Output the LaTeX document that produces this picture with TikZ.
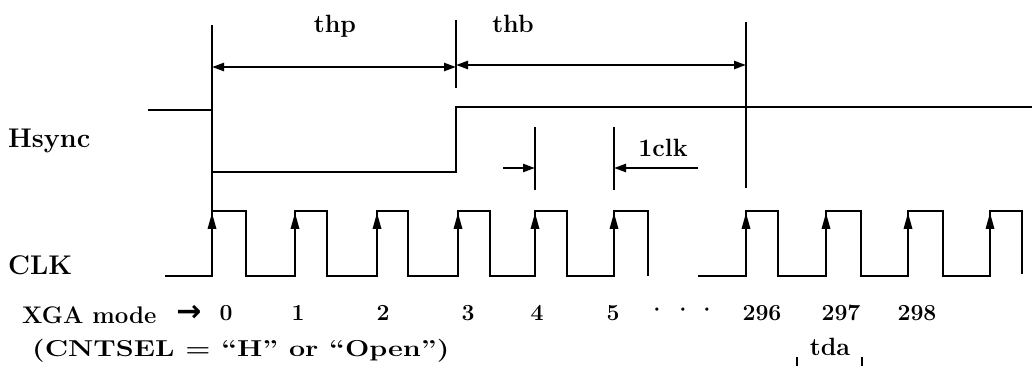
\documentclass[tikz,border=0pt]{standalone}
\usepackage{fontspec}
\newfontfamily\djv{DejaVu Sans}
\usetikzlibrary{arrows.meta}
\begin{document}
\begin{tikzpicture}[x=1pt,y=-1pt,
  >={Triangle[length=12pt,width=8pt]},
  sig/.style={line width=2.8pt, line join=miter},
  refl/.style={line width=1.4pt},
  dim/.style={line width=2.4pt},
  lbl/.style={font=\fontsize{25}{30}\selectfont\bfseries, inner sep=0pt, anchor=base},
  num/.style={font=\fontsize{23}{28}\selectfont\bfseries, inner sep=0pt, anchor=base},
  sname/.style={font=\fontsize{27}{32}\selectfont\bfseries, inner sep=0pt, anchor=base west},
  txt/.style={font=\fontsize{24}{30}\selectfont\bfseries, inner sep=0pt, anchor=base west},
  sym/.style={font=\fontsize{23}{28}\selectfont\bfseries, inner sep=0pt},
]
\useasboundingbox (0,0) rectangle (1036,366);

% reference coordinates
\coordinate (r0t) at (212,25);  \coordinate (r0b) at (212,211);
\coordinate (r3t) at (456,20);  \coordinate (r3b) at (456,88);
\coordinate (rbt) at (746,22);  \coordinate (rbb) at (746,188);
\coordinate (c4t) at (535,127); \coordinate (c4b) at (535,190);
\coordinate (c5t) at (614,127); \coordinate (c5b) at (614,190);
\coordinate (ta) at (797,357);  \coordinate (tab) at (797,366);
\coordinate (tb) at (862,357);  \coordinate (tbb) at (862,366);

% vertical reference lines
\draw[refl] (r0t) -- (r0b);
\draw[refl] (r3t) -- (r3b);
\draw[refl] (rbt) -- (rbb);
\draw[refl] (c4t) -- (c4b);
\draw[refl] (c5t) -- (c5b);
\draw[refl] (ta) -- (tab);
\draw[refl] (tb) -- (tbb);

% dimension arrows
\coordinate (thpL) at (212,67); \coordinate (thpR) at (456,67);
\coordinate (thbL) at (456,65); \coordinate (thbR) at (746,65);
\draw[dim,<->] (thpL) -- (thpR);
\draw[dim,<->] (thbL) -- (thbR);
\coordinate (k1s) at (503,168); \coordinate (k1e) at (535,168);
\coordinate (k2s) at (698,168); \coordinate (k2e) at (614,168);
\draw[dim,->] (k1s) -- (k1e);
\draw[dim,->] (k2s) -- (k2e);

% Hsync
\draw[sig] (148,110) -- (212,110) -- (212,172) -- (456,172) -- (456,107) -- (1032,107);

% CLK
\draw[sig] (165,276) -- (212,276) -- (212,211) -- (246,211) -- (246,276)
  -- (295,276) -- (295,211) -- (327,211) -- (327,276)
  -- (377,276) -- (377,211) -- (408,211) -- (408,276)
  -- (458,276) -- (458,211) -- (490,211) -- (490,276)
  -- (535,276) -- (535,211) -- (567,211) -- (567,276)
  -- (614,276) -- (614,211) -- (648,211) -- (648,276);
\draw[sig] (698,276) -- (746,276) -- (746,211) -- (778,211) -- (778,276)
  -- (826,276) -- (826,211) -- (861,211) -- (861,276)
  -- (908,276) -- (908,211) -- (943,211) -- (943,276)
  -- (990,276) -- (990,211) -- (1022,211) -- (1022,274);
\foreach \x in {212,295,377,458,535,614,746,826,908,990}
  \fill (\x-4.5,229) -- (\x,213) -- (\x+4.5,229) -- cycle;

% labels
\node[lbl] (thp) at (335,33) {thp};
\node[lbl] (thb) at (513,33) {thb};
\node[lbl] (clk1) at (663,157) {1clk};
\node[lbl] (tda) at (830,355) {tda};

\node[sname] (hsync) at (8,148) {Hsync};
\node[sname] (clk) at (8,274) {CLK};
\node[txt] (xga) at (22,323) {XGA mode};
\node[sym, font=\fontsize{30}{34}\djv\bfseries] (arr) at (189,313) {→};
\node[txt, font=\fontsize{23}{28}\selectfont\bfseries] (cnt) at (32,356) {\scalebox{1.25}[1]{(CNTSEL = ``H'' or ``Open'')}};

\node[num] (n0) at (226,320) {0};
\node[num] (n1) at (298,320) {1};
\node[num] (n2) at (383,320) {2};
\node[num] (n3) at (468,320) {3};
\node[num] (n4) at (537,320) {4};
\node[num] (n5) at (613,320) {5};
\node[sym] (d1) at (657,313) {\textperiodcentered};
\node[sym] (d2) at (683,313) {\textperiodcentered};
\node[sym] (d3) at (707,313) {\textperiodcentered};
\node[num] (n296) at (762,320) {296};
\node[num] (n297) at (841,320) {297};
\node[num] (n298) at (917,320) {298};
\end{tikzpicture}
\end{document}
